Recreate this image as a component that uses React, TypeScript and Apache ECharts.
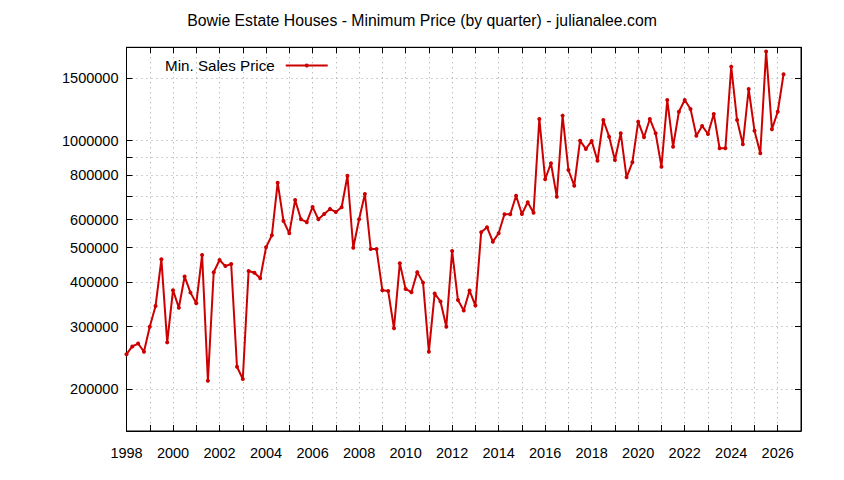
import * as echarts from "echarts";
import { useEffect, useRef } from "react";

const chartTitle = "Bowie Estate Houses - Minimum Price (by quarter) - julianalee.com";
const seriesName = "Min. Sales Price";
const firstYear = 1998;
const lastYear = 2027;

// minimum sale price per quarter, 1998 Q1 .. 2026 Q2
const minPrices = [
  251000, 264000, 269000, 255000, 300000, 343000, 464000, 271000,
  380000, 339000, 415000, 374000, 349000, 477000, 211500, 426600,
  462000, 444000, 450000, 231500, 213800, 430200, 425500, 410400,
  501400, 542000, 762000, 594500, 549000, 681000, 601000, 590000,
  651000, 601000, 622000, 643000, 630000, 650000, 797000, 500000,
  601000, 708000, 496000, 496000, 380000, 378000, 297000, 452000,
  383000, 375000, 427000, 399000, 255000, 372000, 353000, 300000,
  489500, 356500, 333000, 379000, 344000, 553000, 571000, 520000,
  549000, 621000, 621000, 700000, 622000, 671000, 627000, 1151000,
  779000, 864000, 696000, 1176000, 827000, 747000, 1000000, 948000,
  998000, 878000, 1143000, 1026000, 882000, 1049000, 789000, 869500,
  1131000, 1022000, 1151000, 1049000, 845000, 1301000, 962000, 1206000,
  1301000, 1228000, 1033000, 1100000, 1044000, 1189000, 952000, 952000,
  1615000, 1143000, 977000, 1397000, 1067000, 922000, 1780000, 1077000,
  1206000, 1537000,
];

const yTickValues = [200000, 300000, 400000, 500000, 600000, 700000, 800000, 900000, 1000000, 1500000];
const yLabelValues = [200000, 300000, 400000, 500000, 600000, 800000, 1000000, 1500000];
const yMin = 152700;
const yMax = 1830000;

const lineColor = "#cc0000";
const gridColor = "#a0a0a0";
const fontFamily = "Liberation Sans";
const fontSize = 14.5;

export default function App() {
  const ref = useRef<HTMLDivElement | null>(null);

  useEffect(() => {
    if (!ref.current) return;
    const chart = echarts.init(ref.current, null, { renderer: "svg" });
    const points = minPrices.map((price, i) => [firstYear + i / 4, Math.log10(price)]);
    const tickLogs = yTickValues.map((v) => Math.log10(v));
    const labelLogs = yLabelValues.map((v) => Math.log10(v));

    const xBase = {
      type: "value",
      min: firstYear,
      max: lastYear,
      interval: 1,
      axisLine: { lineStyle: { color: "#000", width: 1 } },
      axisTick: { inside: true, length: 6, lineStyle: { color: "#000" } },
    };
    const yBase = {
      type: "value",
      min: Math.log10(yMin),
      max: Math.log10(yMax),
      axisLine: { show: true, lineStyle: { color: "#000", width: 1 } },
      axisTick: { show: true, inside: true, length: 6, customValues: tickLogs, lineStyle: { color: "#000" } },
    };

    chart.setOption({
      animation: false,
      backgroundColor: "#fff",
      textStyle: { fontFamily },
      title: {
        text: chartTitle,
        left: "center",
        top: 7,
        textStyle: { fontFamily, fontSize: 15.8, fontWeight: "normal", color: "#000" },
      },
      legend: {
        data: [seriesName],
        left: 165,
        top: 58,
        padding: 0,
        align: "right",
        itemWidth: 42,
        itemHeight: 5,
        textStyle: { fontFamily, fontSize: 15.2, color: "#000", padding: [0, 6, 0, 0] },
      },
      grid: { left: 126.5, right: 43, top: 47.3, bottom: 49, show: true, borderColor: "#000", borderWidth: 1 },
      xAxis: [
        {
          ...xBase,
          position: "bottom",
          axisLabel: {
            color: "#000",
            fontFamily,
            fontSize,
            margin: 14,
            formatter: (v: number) => (v % 2 === 0 ? String(v) : ""),
          },
          splitLine: { show: true, lineStyle: { color: gridColor, type: [1, 4] } },
        },
        {
          ...xBase,
          position: "top",
          axisLabel: { show: false },
          splitLine: { show: false },
        },
      ],
      yAxis: [
        {
          ...yBase,
          position: "left",
          axisLabel: {
            color: "#000",
            fontFamily,
            fontSize,
            margin: 8,
            customValues: labelLogs,
            formatter: (v: number) => String(Math.round(Math.pow(10, v) / 1000) * 1000),
          },
          splitLine: { show: true, lineStyle: { color: gridColor, type: [1, 4] } },
        },
        {
          ...yBase,
          position: "right",
          axisLabel: { show: false },
          splitLine: { show: false },
        },
      ],
      series: [
        {
          name: seriesName,
          type: "line",
          data: points,
          xAxisIndex: 0,
          yAxisIndex: 0,
          symbol: "circle",
          symbolSize: 4,
          showSymbol: true,
          lineStyle: { color: lineColor, width: 2 },
          itemStyle: { color: lineColor },
        },
      ],
    });
    return () => chart.dispose();
  }, []);

  return <div ref={ref} style={{ position: "absolute", left: 0, top: 0, width: 844, height: 480 }} />;
}
